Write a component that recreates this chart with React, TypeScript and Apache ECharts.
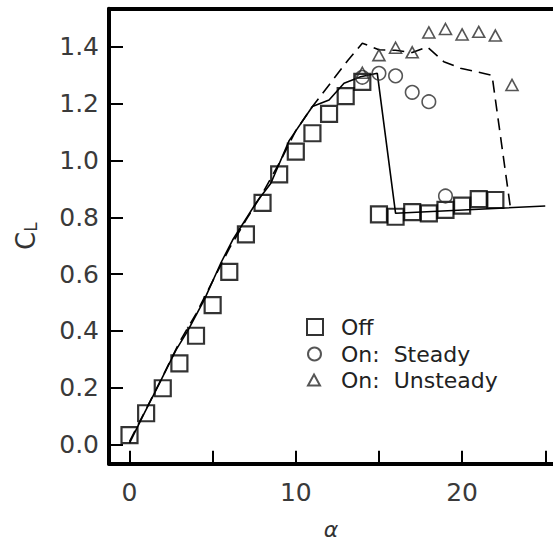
import React, { useEffect, useRef } from "react";
import * as echarts from "echarts";

// Experimental points
const offAlpha = [0, 1, 2, 3, 4, 5, 6, 7, 8, 9, 10, 11, 12, 13, 14, 15, 16, 17, 18, 19, 20, 21, 22];
const offCL = [0.033, 0.11, 0.198, 0.286, 0.383, 0.491, 0.608, 0.74, 0.851, 0.951, 1.031, 1.096, 1.164, 1.227, 1.277, 0.81, 0.802, 0.818, 0.814, 0.826, 0.841, 0.864, 0.861];

const steadyAlpha = [14, 15, 16, 17, 18, 19];
const steadyCL = [1.293, 1.307, 1.298, 1.24, 1.207, 0.875];

const unsteadyAlpha = [14, 15, 16, 17, 18, 19, 20, 21, 22, 23];
const unsteadyCL = [1.309, 1.371, 1.397, 1.381, 1.451, 1.463, 1.444, 1.453, 1.44, 1.266];

// Computed curves
const offLineAlpha = [0, 0.8, 1.8, 2.8, 3.5, 4.5, 5.5, 6.2, 7.6, 8.5, 9.6, 11, 12, 12.9, 13.9, 14.9, 16, 25];
const offLineCL = [0.005, 0.1, 0.215, 0.333, 0.4, 0.51, 0.64, 0.72, 0.85, 0.92, 1.07, 1.19, 1.213, 1.272, 1.295, 1.307, 0.814, 0.84];

const unsteadyLineAlpha = [0, 1, 2, 3, 4, 5, 6, 7, 8, 9, 10, 11, 13.15, 14, 15, 16, 17, 17.9, 18.9, 19.9, 21.8, 22.9];
const unsteadyLineCL = [0.01, 0.125, 0.24, 0.36, 0.46, 0.575, 0.69, 0.79, 0.885, 0.99, 1.105, 1.19, 1.354, 1.413, 1.39, 1.388, 1.38, 1.4, 1.348, 1.325, 1.3, 0.836];

// Ticks
const xTicks = [0, 5, 10, 15, 20, 25];
const xLabels = [0, 10, 20];
const yTicks = [0, 0.2, 0.4, 0.6, 0.8, 1.0, 1.2, 1.4];

const zip = (a: number[], b: number[]) => a.map((v, i) => [v, b[i]]);

const FONT = "DejaVu Sans";

export default function App() {
  const ref = useRef<HTMLDivElement>(null);
  useEffect(() => {
    if (!ref.current) return;
    const chart = echarts.init(ref.current, undefined, { renderer: "svg" });
    const legendText = { fontFamily: FONT, fontSize: 22, lineHeight: 20, color: "#222" };
    chart.setOption({
      animation: false,
      backgroundColor: "#fff",
      grid: { left: 109, right: 0, top: 8.7, bottom: 82.3, containLabel: false, outerBoundsMode: "none" },
      xAxis: [
        {
          type: "value",
          min: -1.233,
          max: 25.466,
          position: "bottom",
          name: "α",
          nameLocation: "middle",
          nameGap: 55,
          nameTextStyle: { fontFamily: FONT, fontSize: 22, lineHeight: 22, color: "#333", fontStyle: "italic" },
          axisLine: { show: true, onZero: false, lineStyle: { color: "#000", width: 4 } },
          axisTick: { show: true, inside: true, length: 13, customValues: xTicks, lineStyle: { color: "#000", width: 2 } },
          axisLabel: {
            show: true,
            margin: 16,
            customValues: xLabels,
            fontFamily: FONT,
            fontSize: 25,
            color: "#3a3a3a",
          },
          splitLine: { show: false },
        },
        {
          type: "value",
          min: -1.233,
          max: 25.466,
          position: "top",
          axisLine: { show: true, onZero: false, lineStyle: { color: "#000", width: 4 } },
          axisTick: { show: false },
          axisLabel: { show: false },
          splitLine: { show: false },
        },
      ],
      yAxis: {
        type: "value",
        min: -0.0676,
        max: 1.5345,
        name: "C{s|L}",
        nameLocation: "middle",
        nameGap: 70,
        nameRotate: 90,
        nameTextStyle: {
          fontFamily: FONT,
          fontSize: 26,
          color: "#333",
          rich: {
            s: { fontFamily: FONT, fontSize: 17, color: "#333", padding: [10, 0, 0, 0] },
          },
        },
        axisLine: { show: true, onZero: false, lineStyle: { color: "#000", width: 4 } },
        axisTick: { show: true, inside: true, length: 14, customValues: yTicks, lineStyle: { color: "#000", width: 2 } },
        axisLabel: {
          show: true,
          margin: 10,
          customValues: yTicks,
          formatter: (v: number) => v.toFixed(1),
          fontFamily: FONT,
          fontSize: 25,
          color: "#3a3a3a",
        },
        splitLine: { show: false },
      },
      legend: [
        {
          data: ["Off"],
          left: 306,
          top: 316,
          orient: "vertical",
          padding: 0,
          itemWidth: 16,
          itemHeight: 16,
          textStyle: { ...legendText, padding: [0, 0, 0, 13] },
          selectedMode: false,
        },
        {
          data: ["On:  Steady"],
          left: 307,
          top: 343,
          orient: "vertical",
          padding: 0,
          itemWidth: 13,
          itemHeight: 13,
          textStyle: { ...legendText, padding: [0, 0, 0, 15] },
          selectedMode: false,
        },
        {
          data: ["On:  Unsteady"],
          left: 307,
          top: 369,
          orient: "vertical",
          padding: 0,
          itemWidth: 12,
          itemHeight: 11,
          textStyle: { ...legendText, padding: [0, 0, 0, 16] },
          selectedMode: false,
        },
      ],
      series: [
        {
          type: "line",
          name: "offLine",
          data: zip(offLineAlpha, offLineCL),
          showSymbol: false,
          symbol: "none",
          lineStyle: { color: "#000", width: 1.6, type: "solid" },
          z: 2,
        },
        {
          type: "line",
          name: "unsteadyLine",
          data: zip(unsteadyLineAlpha, unsteadyLineCL),
          showSymbol: false,
          symbol: "none",
          lineStyle: { color: "#000", width: 1.6, type: [12, 7] },
          z: 2,
        },
        {
          type: "scatter",
          name: "Off",
          data: zip(offAlpha, offCL),
          symbol: "rect",
          symbolSize: 16,
          itemStyle: { color: "rgba(255,255,255,0)", borderColor: "#000", borderWidth: 2.2 },
          z: 5,
        },
        {
          type: "scatter",
          name: "On:  Steady",
          data: zip(steadyAlpha, steadyCL),
          symbol: "circle",
          symbolSize: 13.5,
          itemStyle: { color: "rgba(255,255,255,0)", borderColor: "#2a2a2a", borderWidth: 1.6 },
          z: 5,
        },
        {
          type: "scatter",
          name: "On:  Unsteady",
          data: zip(unsteadyAlpha, unsteadyCL),
          symbol: "triangle",
          symbolSize: [12, 11],
          itemStyle: { color: "rgba(255,255,255,0)", borderColor: "#2a2a2a", borderWidth: 1.6 },
          z: 5,
        },
      ],
    });
    return () => chart.dispose();
  }, []);
  return (
    <div
      ref={ref}
      style={{ position: "fixed", left: 0, top: 0, width: 553, height: 546, background: "#fff" }}
    />
  );
}
